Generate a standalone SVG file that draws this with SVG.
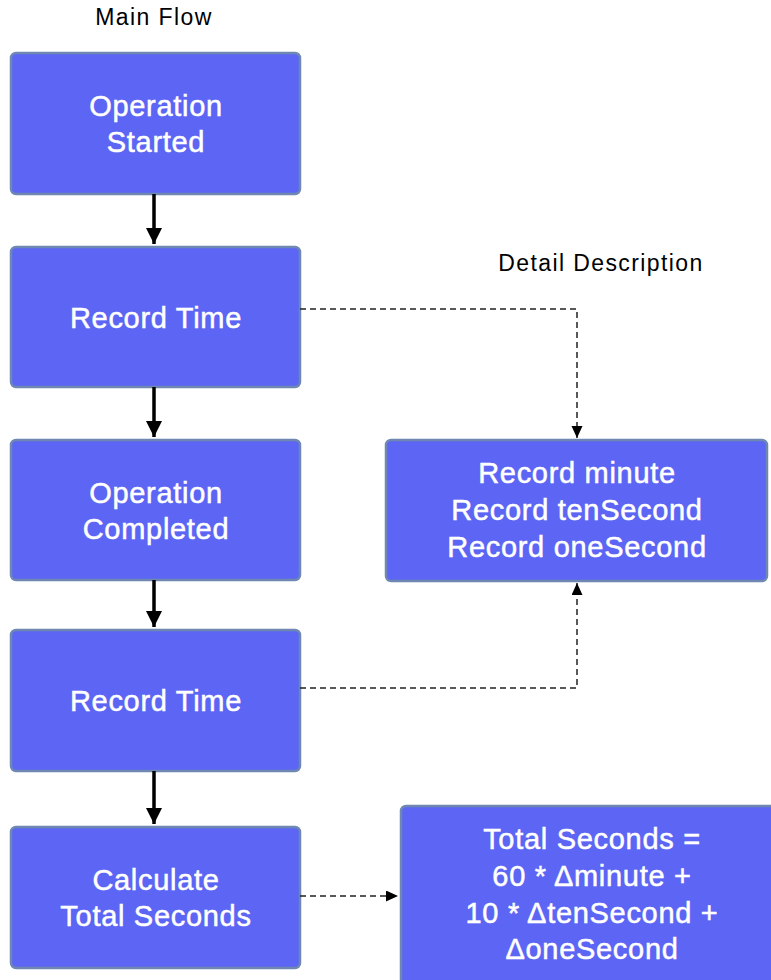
<svg xmlns="http://www.w3.org/2000/svg" width="771" height="980" viewBox="0 0 771 980">
<style>
.box{fill:#5D66F4;stroke:#6E88B2;stroke-width:2.5}
.t{font-family:"Liberation Sans",Arial,sans-serif;font-size:29px;letter-spacing:0.7px;fill:#fff;stroke:#fff;stroke-width:0.5;text-anchor:middle}
.h{font-family:"Liberation Sans",Arial,sans-serif;font-size:23px;letter-spacing:1.4px;fill:#000;text-anchor:middle}
.solid{stroke:#000;stroke-width:3.5;fill:none}
.dash{stroke:#222;stroke-width:1.5;fill:none;stroke-dasharray:6 4}
</style>
<defs>
<marker id="big" markerUnits="userSpaceOnUse" markerWidth="18" markerHeight="18" refX="16" refY="8" orient="auto"><path d="M0,0 L16,8 L0,16 Z" fill="#000"/></marker>
<marker id="small" markerUnits="userSpaceOnUse" markerWidth="14" markerHeight="12" refX="12" refY="5.5" orient="auto"><path d="M0,0 L12,5.5 L0,11 Z" fill="#000"/></marker>
</defs>
<text class="h" x="154" y="25">Main Flow</text>
<text class="h" x="601" y="271">Detail Description</text>
<g id="n1"><rect class="box" x="11" y="53" width="289" height="141" rx="5"/><text class="t" x="156" y="116">Operation</text><text class="t" x="156" y="152">Started</text></g>
<g id="n2"><rect class="box" x="11" y="247" width="289" height="140" rx="5"/><text class="t" x="156" y="328">Record Time</text></g>
<g id="n3"><rect class="box" x="11" y="440" width="289" height="140" rx="5"/><text class="t" x="156" y="503">Operation</text><text class="t" x="156" y="539">Completed</text></g>
<g id="n4"><rect class="box" x="11" y="630" width="289" height="141" rx="5"/><text class="t" x="156" y="711">Record Time</text></g>
<g id="n5"><rect class="box" x="11" y="827" width="289" height="141" rx="5"/><text class="t" x="156" y="890">Calculate</text><text class="t" x="156" y="926">Total Seconds</text></g>
<g id="d1"><rect class="box" x="386" y="440" width="381" height="141" rx="5"/><text class="t" x="577" y="483">Record minute</text><text class="t" x="577" y="520">Record tenSecond</text><text class="t" x="577" y="557">Record oneSecond</text></g>
<g id="d2"><rect class="box" x="401" y="806" width="380" height="190" rx="5"/><text class="t" x="592" y="849">Total Seconds =</text><text class="t" x="592" y="886">60 * Δminute +</text><text class="t" x="592" y="923">10 * ΔtenSecond +</text><text class="t" x="592" y="959">ΔoneSecond</text></g>
<g id="connectors">
<line class="solid" x1="154" y1="194" x2="154" y2="244" marker-end="url(#big)"/>
<line class="solid" x1="154" y1="387" x2="154" y2="437" marker-end="url(#big)"/>
<line class="solid" x1="154" y1="580" x2="154" y2="627" marker-end="url(#big)"/>
<line class="solid" x1="154" y1="771" x2="154" y2="824" marker-end="url(#big)"/>
<path class="dash" d="M300,309 H577 V438" marker-end="url(#small)"/>
<path class="dash" d="M300,688 H577 V583" marker-end="url(#small)"/>
<path class="dash" d="M300,896 H398" marker-end="url(#small)"/>
</g>
</svg>
